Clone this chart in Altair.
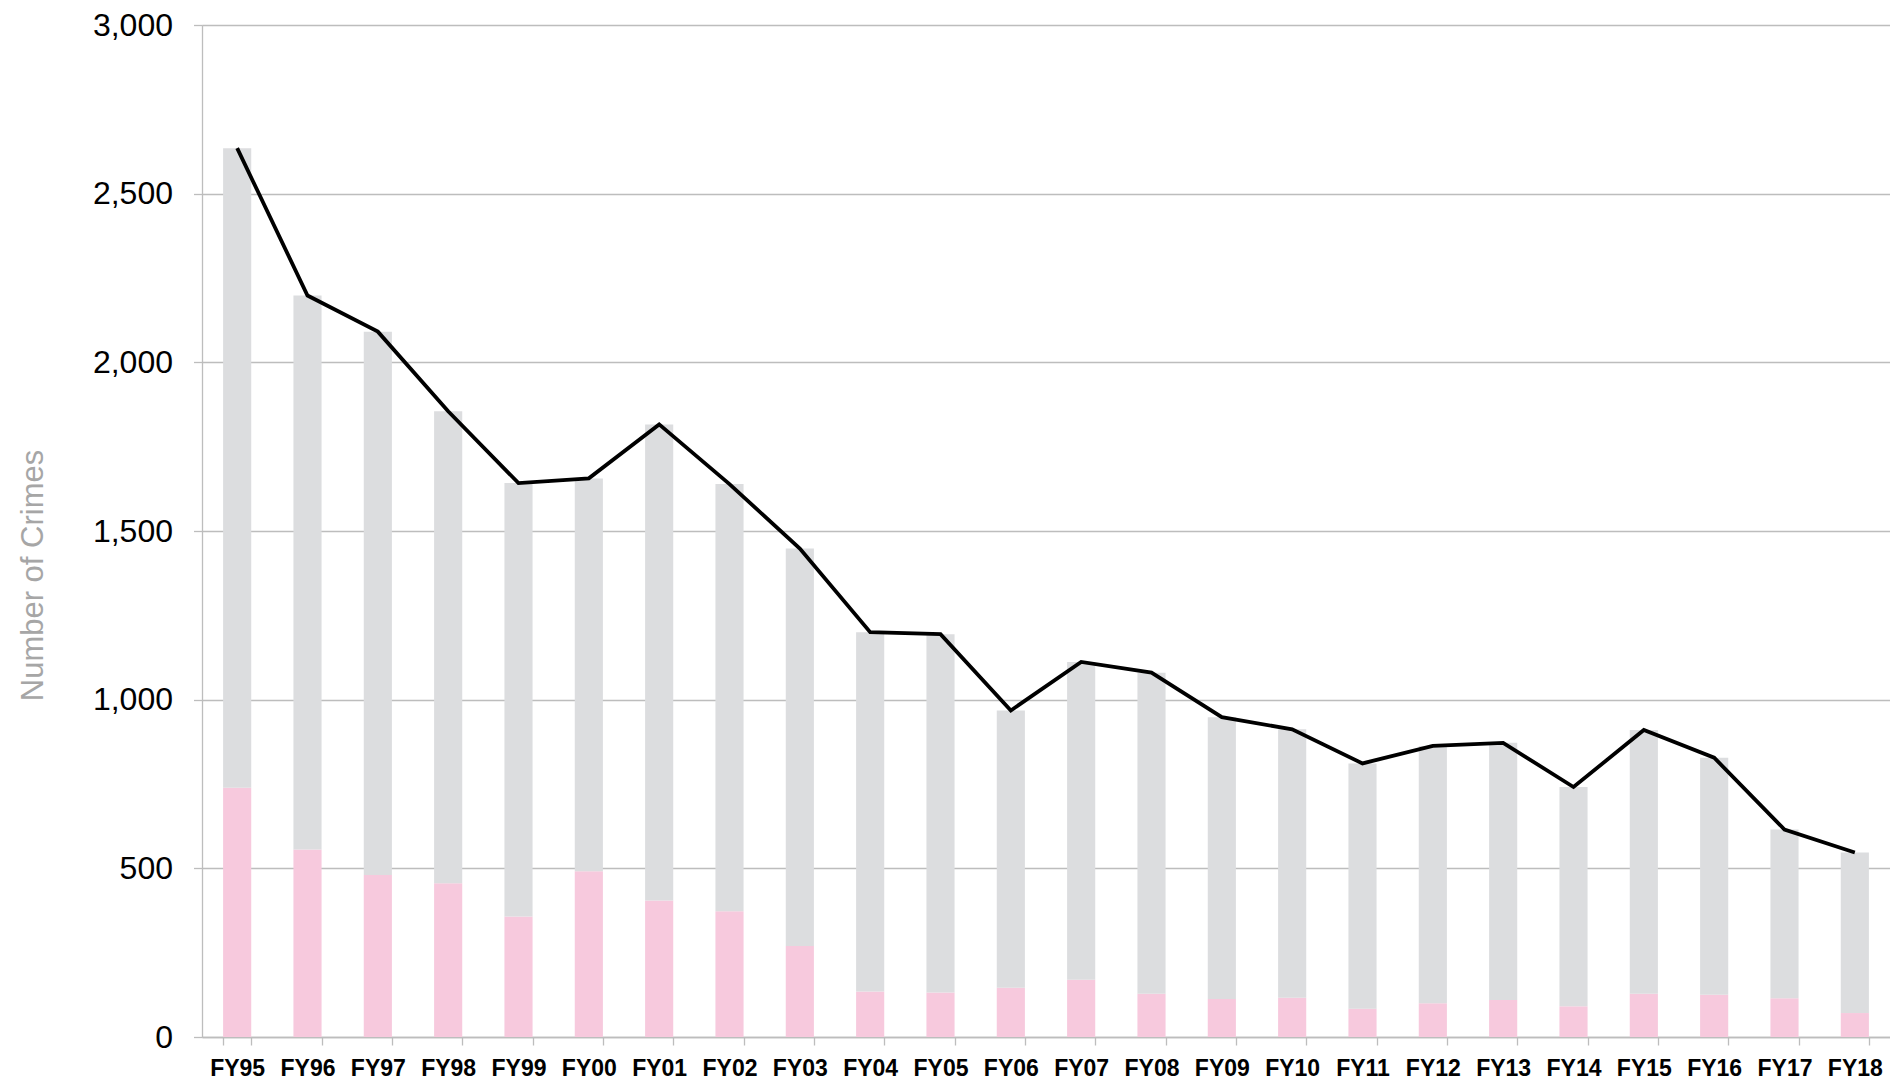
import altair as alt
import pandas as pd

years = ["FY95", "FY96", "FY97", "FY98", "FY99", "FY00", "FY01", "FY02", "FY03",
         "FY04", "FY05", "FY06", "FY07", "FY08", "FY09", "FY10", "FY11", "FY12",
         "FY13", "FY14", "FY15", "FY16", "FY17", "FY18"]
totals = [2635, 2198, 2091, 1855, 1642, 1656, 1816, 1639, 1448, 1200, 1194, 968,
          1112, 1080, 948, 912, 811, 863, 872, 741, 910, 828, 615, 547]
highlighted = [739, 556, 480, 456, 357, 491, 405, 373, 270, 135, 132, 146,
               170, 128, 113, 116, 84, 100, 110, 91, 128, 125, 115, 71]
y_ticks = [0, 500, 1000, 1500, 2000, 2500, 3000]

PINK = "#F7C9DD"
GRAY = "#DCDDDF"
AXIS_GRAY = "#BDBDBD"
FONT = "Liberation Sans"

rows = []
for yr, tot, hi in zip(years, totals, highlighted):
    rows.append({"year": yr, "segment": "Highlighted", "ord": 0, "value": hi})
    rows.append({"year": yr, "segment": "Remaining", "ord": 1, "value": tot - hi})
bars_df = pd.DataFrame(rows)
line_df = pd.DataFrame({"year": years, "total": totals})

x_enc = alt.X(
    "year:N", sort=years,
    scale=alt.Scale(paddingInner=0.6, paddingOuter=0.3),
    axis=alt.Axis(
        title=None, labelAngle=0, tickBand="extent", grid=False,
        labelFont=FONT, labelFontSize=23, labelFontWeight="bold", labelColor="black",
        labelPadding=12, tickSize=8, tickColor=AXIS_GRAY, tickWidth=1.3,
        domainColor=AXIS_GRAY, domainWidth=1.3,
    ),
)

y_axis = alt.Axis(
    values=y_ticks, format=",.0f", title="Number of Crimes",
    labelFont=FONT, labelFontSize=32, labelColor="black", labelPadding=21,
    tickSize=8.5, tickColor=AXIS_GRAY, tickWidth=1.3,
    domainColor=AXIS_GRAY, domainWidth=1.3,
    grid=True, gridColor=AXIS_GRAY, gridWidth=1.3,
    titleFont=FONT, titleFontSize=31, titleFontWeight="normal", titleColor="#A6A6A6",
    titleAngle=270, titleAlign="center", titleBaseline="alphabetic",
    titleX=-160, titleY=550,
)

bars = alt.Chart(bars_df).mark_bar().encode(
    x=x_enc,
    y=alt.Y("value:Q", stack="zero",
            scale=alt.Scale(domain=[0, 3000], nice=False), axis=y_axis),
    color=alt.Color("segment:N",
                    scale=alt.Scale(domain=["Highlighted", "Remaining"], range=[PINK, GRAY]),
                    legend=None),
    order=alt.Order("ord:Q"),
)

line = alt.Chart(line_df).mark_line(color="black", strokeWidth=3.8).encode(
    x=alt.X("year:N", sort=years),
    y=alt.Y("total:Q"),
)

chart = alt.layer(bars, line).properties(
    width=1688, height=1012,
    autosize=alt.AutoSizeParams(type="none"),
    padding={"left": 194, "top": 17, "right": 0, "bottom": 42},
).configure_view(stroke=None).configure(background="white")

chart.save("out.html", embed_options={"renderer": "svg", "actions": False})
